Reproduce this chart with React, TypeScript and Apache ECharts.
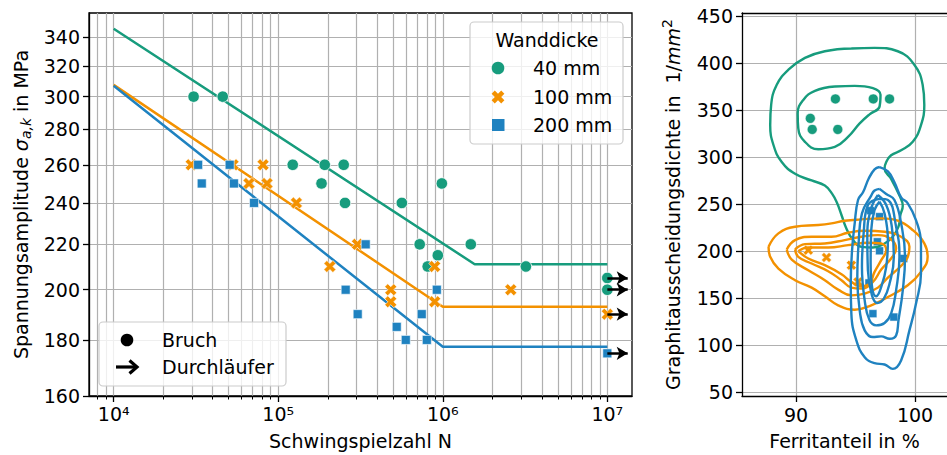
import React, { useEffect, useRef } from "react";
import * as echarts from "echarts";

const FONT = "DejaVu Sans";
const GREEN = "#179c7d";
const ORANGE = "#f39100";
const BLUE = "#1f82c0";
const GRID_GRAY = "#b0b0b0";

// ---------------- Left panel (S-N diagram) ----------------
const X_MAJOR = [1e4, 1e5, 1e6, 1e7];
const X_MINOR = [
  8000, 9000,
  2e4, 3e4, 4e4, 5e4, 6e4, 7e4, 8e4, 9e4,
  2e5, 3e5, 4e5, 5e5, 6e5, 7e5, 8e5, 9e5,
  2e6, 3e6, 4e6, 5e6, 6e6, 7e6, 8e6, 9e6,
];
const Y_TICKS_LEFT = [160, 180, 200, 220, 240, 260, 280, 300, 320, 340];

const SN_40MM: [number, number][] = [
  [30600, 300], [46000, 300], [122500, 260], [191700, 260], [250000, 260],
  [183300, 250], [254700, 240], [564000, 240], [987000, 250],
  [724000, 220], [1480000, 220], [933000, 215], [810000, 210], [3200000, 210],
  [1e7, 205], [1e7, 200],
];
const SN_100MM: [number, number][] = [
  [29600, 260], [53100, 260], [80900, 260], [66400, 250], [85500, 250], [129000, 240],
  [303000, 220], [206000, 210], [483000, 200], [483000, 195], [893000, 210], [893000, 195],
  [2590000, 200], [1e7, 190],
];
const SN_200MM: [number, number][] = [
  [32600, 260], [34300, 250], [50700, 260], [53800, 250], [71300, 240],
  [340000, 220], [257000, 200], [304000, 190], [525000, 185], [596000, 180],
  [745000, 190], [800000, 180], [920000, 200], [1e7, 175],
];

const CURVE_40MM: [number, number][] = [[1e4, 346], [1.563e6, 211], [1e7, 211]];
const CURVE_100MM: [number, number][] = [[1e4, 307.5], [1e6, 193], [1e7, 193]];
const CURVE_200MM: [number, number][] = [[1e4, 306.9], [1e6, 177.4], [1e7, 177.4]];

const RUNOUT_N = 1e7;
const RUNOUT_ARROW_END = 1.33e7;
const RUNOUT_STRESS = [205, 200, 190, 175];

// ---------------- Right panel (microstructure) ----------------
const X_TICKS_RIGHT = [90, 100];
const Y_TICKS_RIGHT = [50, 100, 150, 200, 250, 300, 350, 400, 450];

const MICRO_40MM: [number, number][] = [
  [93.31, 361.8], [96.49, 361.8], [97.86, 361.8], [91.2, 341.1], [91.36, 329.3], [93.51, 329.3],
];
const MICRO_100MM: [number, number][] = [
  [91.03, 200.9], [92.56, 193.1], [94.65, 184.9], [95.21, 167.1],
];
const MICRO_200MM: [number, number][] = [
  [96.27, 242.9], [97.02, 236.5], [96.83, 209.8], [97.02, 200.2], [99.05, 192.0],
  [96.13, 166.0], [96.46, 133.3], [98.22, 129.7],
];

const KDE_40MM_L1: [number, number][] = [
  [94.65, 415.4], [96.6, 416.1], [98.55, 412.5], [99.94, 398.2], [100.64, 376.8], [100.78, 355.4],
  [100.5, 333.9], [99.81, 316.1], [98.83, 307.1], [97.99, 301.8], [97.58, 294.6], [97.44, 287.5],
  [97.99, 276.8], [98.69, 258.9], [98.97, 248.2], [98.77, 238.3], [98.61, 225.8], [98.13, 215.1],
  [97.44, 208.0], [96.46, 203.7], [95.49, 204.4], [94.79, 211.6], [94.23, 224.0], [93.82, 238.3],
  [93.45, 251.0], [93.04, 260.7], [92.42, 269.6], [91.31, 275.0], [89.92, 282.1], [88.8, 294.6],
  [88.11, 312.5], [87.83, 333.9], [87.91, 355.4], [88.38, 376.8], [89.36, 392.9], [90.75, 405.4],
  [92.42, 412.5], [94.65, 415.4],
];
const KDE_40MM_L2: [number, number][] = [
  [93.26, 375.0], [94.93, 375.7], [96.46, 373.2], [97.1, 366.1], [97.02, 353.6], [96.18, 345.4],
  [95.35, 335.7], [94.37, 321.4], [93.26, 310.7], [91.87, 308.2], [90.75, 316.1], [90.19, 330.4],
  [90.14, 346.4], [90.61, 360.7], [91.59, 370.4], [93.26, 375.0],
];
const KDE_100MM_L1: [number, number][] = [
  [87.69, 204.4], [88.52, 218.7], [89.92, 225.8], [91.87, 227.6], [92.98, 229.4], [94.09, 232.2],
  [95.49, 233.6], [97.16, 234.7], [98.55, 232.2], [99.81, 222.2], [100.78, 208.0], [101.06, 193.8],
  [100.5, 177.8], [99.39, 163.5], [97.72, 151.1], [96.32, 142.2], [94.93, 137.5], [93.54, 142.2],
  [92.42, 151.8], [91.31, 161.0], [89.92, 168.9], [88.52, 181.3], [87.83, 193.8], [87.69, 204.4],
];
const KDE_100MM_L2: [number, number][] = [
  [89.22, 201.6], [89.92, 211.6], [91.31, 215.1], [92.98, 215.1], [94.37, 219.4], [95.77, 221.5],
  [97.44, 220.5], [98.83, 215.1], [99.53, 204.4], [99.33, 192.0], [98.69, 182.4], [97.72, 171.7],
  [96.88, 161.0], [95.77, 154.6], [94.65, 152.8], [93.54, 158.9], [92.42, 168.9], [91.03, 179.5],
  [89.64, 190.9], [89.22, 201.6],
];
const KDE_100MM_L3: [number, number][] = [
  [89.92, 201.6], [90.75, 207.3], [92.42, 208.0], [94.09, 211.6], [95.49, 215.1], [96.88, 216.9],
  [97.99, 212.3], [98.41, 202.7], [97.99, 192.0], [97.16, 180.2], [96.46, 167.1], [95.49, 160.0],
  [94.65, 161.0], [93.82, 168.9], [92.7, 178.5], [91.31, 186.7], [90.19, 193.8], [89.92, 201.6],
];
const KDE_100MM_L4: [number, number][] = [
  [90.19, 199.8], [91.03, 203.7], [92.7, 203.7], [94.37, 206.2], [96.04, 208.7], [97.16, 208.0],
  [97.58, 200.9], [97.16, 190.2], [96.6, 177.8], [96.18, 165.3], [95.49, 162.5], [94.65, 167.1],
  [93.82, 175.3], [92.42, 184.9], [91.03, 192.0], [90.19, 199.8],
];
const KDE_200MM_L1: [number, number][] = [
  [97.02, 289.3], [97.72, 284.6], [98.27, 273.2], [98.83, 257.1], [99.39, 250.7], [100.08, 232.9],
  [100.5, 208.0], [100.5, 176.0], [100.08, 143.9], [99.53, 115.5], [98.83, 83.5], [98.13, 74.6],
  [97.44, 79.2], [96.6, 80.6], [95.77, 87.0], [95.07, 104.8], [94.65, 133.3], [94.6, 165.3],
  [94.71, 200.9], [94.93, 229.4], [95.21, 254.3], [95.63, 262.5], [96.1, 276.8], [96.6, 286.8],
  [97.02, 289.3],
];
const KDE_200MM_L2: [number, number][] = [
  [97.02, 266.1], [97.58, 260.7], [98.27, 254.3], [98.83, 229.4], [99.16, 193.8], [98.97, 158.2],
  [98.61, 126.2], [98.41, 110.1], [97.86, 106.6], [97.16, 109.1], [96.46, 108.4], [95.77, 115.5],
  [95.35, 136.8], [95.15, 172.4], [95.26, 208.0], [95.54, 240.0], [96.32, 258.9], [96.6, 264.3],
  [97.02, 266.1],
];
const KDE_200MM_L3: [number, number][] = [
  [97.02, 255.4], [97.72, 254.3], [98.41, 225.8], [98.69, 193.8], [98.41, 158.2], [97.99, 133.3],
  [97.44, 123.3], [96.74, 120.8], [96.18, 126.2], [95.77, 147.5], [95.54, 183.1], [95.68, 218.7],
  [96.04, 248.9], [97.02, 255.4],
];
const KDE_200MM_L4: [number, number][] = [
  [96.88, 259.6], [97.58, 248.9], [98.05, 225.8], [98.22, 193.8], [97.86, 165.3], [97.38, 149.3],
  [96.83, 144.7], [96.38, 152.8], [96.04, 179.5], [95.99, 215.1], [96.27, 243.6], [96.88, 259.6],
];
const KDE_200MM_L5: [number, number][] = [
  [97.02, 252.5], [97.44, 240.0], [97.72, 211.6], [97.58, 183.1], [97.16, 161.7], [96.74, 151.8],
  [96.41, 160.0], [96.27, 186.7], [96.32, 222.2], [96.6, 243.6], [97.02, 252.5],
];

// X-marker outline (unit template)
const X_MARK: [number, number][] = [
  [0.94, -0.474], [0.467, 0], [0.94, 0.474], [0.474, 0.94], [0, 0.467], [-0.474, 0.94],
  [-0.94, 0.474], [-0.467, 0], [-0.94, -0.474], [-0.474, -0.94], [0, -0.467], [0.474, -0.94],
];
const X_PATH =
  "path://" + X_MARK.map((p, i) => (i === 0 ? "M" : "L") + p[0] + "," + p[1]).join(" ") + " Z";

const SUP = "⁰¹²³⁴⁵⁶⁷⁸⁹";
const powLabel = (v: number) => {
  const e = Math.round(Math.log10(v));
  return "10" + String(e).split("").map((d) => SUP[+d]).join("");
};

const FS = 19;
const LW = 2.5;
const txt = (size = FS) => ({ fontFamily: FONT, fontSize: size, color: "#000" });
const gText = (x: number, y: number, text: string, align = "left") => ({
  type: "text", z: 101, x, y,
  style: {
    text, fontFamily: FONT, fontSize: FS, fill: "#000",
    align, verticalAlign: "middle", textAlign: align, textVerticalAlign: "middle",
  },
});

export default function App() {
  const ref = useRef<HTMLDivElement>(null);
  useEffect(() => {
    if (!ref.current) return;
    const chart = echarts.init(ref.current, undefined, { renderer: "svg" });

    const contour = (data: [number, number][], color: string, z: number) => ({
      type: "line",
      xAxisIndex: 2,
      yAxisIndex: 1,
      data,
      smooth: 0.45,
      symbol: "none",
      z,
      silent: true,
      lineStyle: { color, width: 2.4 },
    });

    const splitStyle = { show: true, lineStyle: { color: GRID_GRAY, width: 1.2 } };
    const axisLine = { show: true, lineStyle: { color: "#000", width: 1.3 } };
    const tickMajor = (vals: number[]) => ({ show: true, length: 6, customValues: vals, lineStyle: { color: "#000", width: 1.3 } });

    const option: any = {
      animation: false,
      backgroundColor: "#fff",
      grid: [
        { left: 89, top: 13, width: 543, height: 383, show: true, borderColor: "#000", borderWidth: 1.3, backgroundColor: "transparent" },
        { left: 742, top: 13, width: 205, height: 383, show: false },
      ],
      xAxis: [
        {
          type: "log", gridIndex: 0, position: "bottom", min: 7079.46, max: 14125375,
          axisLine,
          axisTick: tickMajor(X_MAJOR),
          axisLabel: { ...txt(), margin: 8, customValues: X_MAJOR, formatter: (v: number) => powLabel(v) },
          splitLine: splitStyle,
          name: "Schwingspielzahl N", nameLocation: "middle", nameGap: 35,
          nameTextStyle: txt(),
        },
        {
          type: "log", gridIndex: 0, position: "bottom", min: 7079.46, max: 14125375,
          axisLine: { show: false },
          axisTick: { show: true, length: 3.5, customValues: X_MINOR, lineStyle: { color: "#000", width: 1 } },
          axisLabel: { show: false },
          splitLine: splitStyle,
        },
        {
          type: "value", gridIndex: 1, position: "bottom", min: 85.46, max: 102.687,
          axisLine,
          axisTick: tickMajor(X_TICKS_RIGHT),
          axisLabel: { ...txt(), margin: 9, customValues: X_TICKS_RIGHT },
          splitLine: splitStyle,
          name: "Ferritanteil in %", nameLocation: "middle", nameGap: 35,
          nameTextStyle: txt(),
        },
        {
          type: "value", gridIndex: 1, position: "top", min: 85.46, max: 102.687,
          axisLine,
          axisTick: { show: false },
          axisLabel: { show: false },
          splitLine: { show: false },
        },
      ],
      yAxis: [
        {
          type: "log", gridIndex: 0, min: 160, max: 357.6,
          axisLine,
          axisTick: tickMajor(Y_TICKS_LEFT),
          axisLabel: { ...txt(), margin: 9, customValues: Y_TICKS_LEFT },
          splitLine: splitStyle,
          name: "Spannungsamplitude {it|σ}{sub|a,k} in MPa",
          nameLocation: "middle", nameGap: 56, nameRotate: 90,
          nameTextStyle: {
            ...txt(),
            rich: {
              it: { fontFamily: FONT, fontSize: FS, fontStyle: "italic", color: "#000" },
              sub: { fontFamily: FONT, fontSize: 14, fontStyle: "italic", color: "#000", padding: [10, 0, 0, 0] },
            },
          },
        },
        {
          type: "value", gridIndex: 1, min: 45.7, max: 453.2,
          axisLine,
          axisTick: tickMajor(Y_TICKS_RIGHT),
          axisLabel: { ...txt(), margin: 9, customValues: Y_TICKS_RIGHT },
          splitLine: splitStyle,
          name: "Graphitausscheidungsdichte in  {n|1/}{it|mm}{sup|2}",
          nameLocation: "middle", nameGap: 56, nameRotate: 90,
          nameTextStyle: {
            ...txt(),
            rich: {
              n: { fontFamily: FONT, fontSize: FS, color: "#000" },
              it: { fontFamily: FONT, fontSize: FS, fontStyle: "italic", color: "#000" },
              sup: { fontFamily: FONT, fontSize: 14, color: "#000", padding: [0, 0, 12, 0] },
            },
          },
        },
      ],
      series: [
        { type: "line", name: "40 mm", data: CURVE_40MM, xAxisIndex: 0, yAxisIndex: 0, symbol: "none", z: 2, lineStyle: { color: GREEN, width: LW } },
        { type: "line", name: "100 mm", data: CURVE_100MM, xAxisIndex: 0, yAxisIndex: 0, symbol: "none", z: 2, lineStyle: { color: ORANGE, width: LW } },
        { type: "line", name: "200 mm", data: CURVE_200MM, xAxisIndex: 0, yAxisIndex: 0, symbol: "none", z: 2, lineStyle: { color: BLUE, width: LW } },
        {
          type: "scatter", data: SN_40MM, xAxisIndex: 0, yAxisIndex: 0, symbol: "circle", symbolSize: 11.5, z: 3,
          itemStyle: { color: GREEN, borderColor: "#fff", borderWidth: 0.8, opacity: 1 },
        },
        {
          type: "scatter", data: SN_100MM, xAxisIndex: 0, yAxisIndex: 0, symbol: X_PATH, symbolSize: 12, z: 3,
          itemStyle: { color: ORANGE, borderColor: "#fff", borderWidth: 0.6, opacity: 1 },
        },
        {
          type: "scatter", data: SN_200MM, xAxisIndex: 0, yAxisIndex: 0, symbol: "rect", symbolSize: 9, z: 3,
          itemStyle: { color: BLUE, borderColor: "#fff", borderWidth: 0.6, opacity: 1 },
        },
        {
          type: "line", data: [], xAxisIndex: 0, yAxisIndex: 0, z: 5,
          markLine: {
            silent: true, z: 6, animation: false,
            symbol: ["none", "arrow"], symbolSize: [10, 11],
            label: { show: false },
            lineStyle: { color: "#000", width: LW, type: "solid" },
            emphasis: { disabled: true },
            data: RUNOUT_STRESS.map((s) => [{ coord: [RUNOUT_N, s] }, { coord: [RUNOUT_ARROW_END, s] }]),
          },
        },
        // right panel points
        {
          type: "scatter", data: MICRO_40MM, xAxisIndex: 2, yAxisIndex: 1, symbol: "circle", symbolSize: 10, z: 2,
          itemStyle: { color: GREEN, borderColor: "#fff", borderWidth: 0.6, opacity: 1 },
        },
        {
          type: "scatter", data: MICRO_100MM, xAxisIndex: 2, yAxisIndex: 1, symbol: X_PATH, symbolSize: 10, z: 2,
          itemStyle: { color: ORANGE, borderColor: "#fff", borderWidth: 0.5, opacity: 1 },
        },
        {
          type: "scatter", data: MICRO_200MM, xAxisIndex: 2, yAxisIndex: 1, symbol: "rect", symbolSize: 8, z: 2,
          itemStyle: { color: BLUE, borderColor: "#fff", borderWidth: 0.5, opacity: 1 },
        },
        contour(KDE_40MM_L1, GREEN, 3),
        contour(KDE_40MM_L2, GREEN, 3),
        contour(KDE_100MM_L1, ORANGE, 4),
        contour(KDE_100MM_L2, ORANGE, 4),
        contour(KDE_100MM_L3, ORANGE, 4),
        contour(KDE_100MM_L4, ORANGE, 4),
        contour(KDE_200MM_L1, BLUE, 5),
        contour(KDE_200MM_L2, BLUE, 5),
        contour(KDE_200MM_L3, BLUE, 5),
        contour(KDE_200MM_L4, BLUE, 5),
        contour(KDE_200MM_L5, BLUE, 5),
      ],
      graphic: [
        // legend: Wanddicke
        { type: "rect", z: 100, shape: { x: 470, y: 22, width: 153, height: 122, r: 4 }, style: { fill: "rgba(255,255,255,0.8)", stroke: "#cccccc", lineWidth: 1.2 } },
        gText(547, 40, "Wanddicke", "center"),
        { type: "circle", z: 101, shape: { cx: 498, cy: 68, r: 6.3 }, style: { fill: GREEN } },
        { type: "polygon", z: 101, x: 498, y: 97, shape: { points: X_MARK.map(([a, b]) => [a * 6.8, b * 6.8]) }, style: { fill: ORANGE } },
        { type: "rect", z: 101, shape: { x: 492, y: 119, width: 12.5, height: 12 }, style: { fill: BLUE } },
        gText(533, 68, "40 mm"),
        gText(533, 97, "100 mm"),
        gText(533, 125, "200 mm"),
        // legend: Bruch / Durchläufer
        { type: "rect", z: 100, shape: { x: 99, y: 322, width: 187, height: 64, r: 4 }, style: { fill: "rgba(255,255,255,0.8)", stroke: "#cccccc", lineWidth: 1.2 } },
        { type: "circle", z: 101, shape: { cx: 127, cy: 340, r: 6.3 }, style: { fill: "#000" } },
        { type: "line", z: 101, shape: { x1: 116, y1: 367, x2: 136, y2: 367 }, style: { stroke: "#000", lineWidth: 3.2 } },
        { type: "polyline", z: 101, shape: { points: [[129.5, 360.5], [137, 367], [129.5, 373.5]] }, style: { stroke: "#000", lineWidth: 3.2, fill: null } },
        gText(162, 340, "Bruch"),
        gText(162, 367, "Durchläufer"),
      ],
    };

    chart.setOption(option);
    return () => chart.dispose();
  }, []);

  return (
    <div
      ref={ref}
      style={{ position: "fixed", left: 0, top: 0, width: 947, height: 455, background: "#fff" }}
    />
  );
}
